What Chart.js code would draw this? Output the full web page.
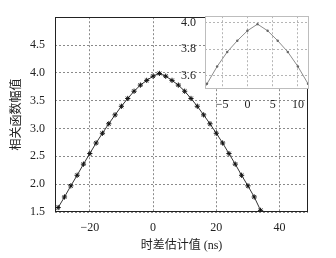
<!DOCTYPE html>
<html>
<head>
<meta charset="utf-8">
<script src="https://cdn.jsdelivr.net/npm/chart.js@4/dist/chart.umd.min.js"></script>
<style>
  html, body { margin: 0; padding: 0; background: #fff; }
  #wrap { position: relative; width: 336px; height: 258px; }
  #main { position: absolute; left: 0; top: 0; }
  #inset { position: absolute; left: 170px; top: 0; }
</style>
</head>
<body>
<div id="wrap">
  <canvas id="main" width="336" height="258"></canvas>
  <canvas id="inset" width="166" height="116"></canvas>
</div>
<script>
// ---- data ----
const xValues = [-30, -28, -26, -24, -22, -20, -18, -16, -14, -12, -10, -8, -6, -4, -2, 0, 2,
                 4, 6, 8, 10, 12, 14, 16, 18, 20, 22, 24, 26, 28, 30, 32, 34];
const yValues = [1.58, 1.77, 1.97, 2.16, 2.36, 2.55, 2.74, 2.915, 3.085, 3.245, 3.40, 3.54, 3.67, 3.78, 3.865, 3.94, 3.99,
                 3.94, 3.865, 3.78, 3.67, 3.54, 3.40, 3.245, 3.085, 2.915, 2.74, 2.55, 2.36, 2.16, 1.97, 1.77, 1.53];
const mainXTicks = [-20, 0, 20, 40];
const mainYTicks = [1.5, 2.0, 2.5, 3.0, 3.5, 4.0, 4.5];
const insetXTicks = [-5, 0, 5, 10];
const insetYTicks = [3.6, 3.8, 4.0];
const xTitle = '时差估计值 (ns)';
const yTitle = '相关函数幅值';

const points = xValues.map((x, i) => ({ x: x, y: yValues[i] }));
const tickFont = { family: "'Liberation Serif', 'Times New Roman', serif", size: 12 };
const cjkFont = { family: "'Liberation Serif', 'Noto Sans CJK SC', serif", size: 12 };
const fmtMinus = v => String(v).replace('-', '\u2212');
const fmtFixed1 = v => Number(v).toFixed(1);

function frame(color, fill) {
  return {
    id: 'frame_' + color,
    beforeDraw(chart) {
      if (!fill) return;
      const a = chart.chartArea, c = chart.ctx;
      c.save(); c.fillStyle = fill;
      c.fillRect(a.left, a.top, a.right - a.left, a.bottom - a.top);
      c.restore();
    },
    afterDraw(chart) {
      const a = chart.chartArea, c = chart.ctx;
      c.save(); c.strokeStyle = color; c.lineWidth = 1;
      c.strokeRect(Math.round(a.left) + 0.5, Math.round(a.top) + 0.5,
                   Math.round(a.right - a.left) - 1, Math.round(a.bottom - a.top) - 1);
      c.restore();
    }
  };
}

new Chart(document.getElementById('main'), {
  type: 'line',
  data: { datasets: [{
    data: points,
    borderColor: '#333',
    borderWidth: 1,
    pointStyle: 'star',
    pointRadius: 2.6,
    pointBorderColor: '#111',
    pointBorderWidth: 1,
    pointBackgroundColor: '#111',
    tension: 0
  }]},
  options: {
    responsive: false, animation: false, devicePixelRatio: 1,
    layout: { padding: { top: 11, right: 28, left: 0, bottom: 0 } },
    plugins: { legend: { display: false }, tooltip: { enabled: false } },
    scales: {
      x: {
        type: 'linear', min: -31, max: 49,
        afterBuildTicks: s => { s.ticks = mainXTicks.map(v => ({ value: v })); },
        afterFit: s => { s.height = 46; },
        grid: { color: '#8a8a8a', drawTicks: false, lineWidth: 1 },
        border: { display: false, dash: [2, 2] },
        ticks: { font: tickFont, color: '#222', padding: 9, callback: fmtMinus, maxRotation: 0 },
        title: { display: true, text: xTitle, font: cjkFont, color: '#222', padding: { top: 0, bottom: 5 } }
      },
      y: {
        type: 'linear', min: 1.5, max: 5.0,
        afterBuildTicks: s => { s.ticks = mainYTicks.map(v => ({ value: v })); },
        afterFit: s => { s.width = 55; },
        grid: { color: '#8a8a8a', drawTicks: false, lineWidth: 1 },
        border: { display: false, dash: [2, 2] },
        ticks: { font: tickFont, color: '#222', padding: 10, callback: fmtFixed1 },
        title: { display: true, text: yTitle, font: cjkFont, color: '#222', padding: { top: 10, bottom: 0 } }
      }
    }
  },
  plugins: [frame('#222', null)]
});

new Chart(document.getElementById('inset'), {
  type: 'line',
  data: { datasets: [{
    data: points,
    borderColor: '#8c8c8c',
    borderWidth: 1,
    pointStyle: 'circle',
    pointRadius: 1.2,
    pointBorderWidth: 0,
    pointBackgroundColor: '#666',
    tension: 0
  }]},
  options: {
    responsive: false, animation: false, devicePixelRatio: 1,
    layout: { padding: { top: 10, right: 27, left: 0, bottom: 0 } },
    plugins: { legend: { display: false }, tooltip: { enabled: false } },
    scales: {
      x: {
        type: 'linear', min: -8.4, max: 12.2,
        afterBuildTicks: s => { s.ticks = insetXTicks.map(v => ({ value: v })); },
        afterFit: s => { s.height = 27; },
        grid: { color: '#b5b5b5', drawTicks: false, lineWidth: 1 },
        border: { display: false, dash: [2, 2] },
        ticks: { font: tickFont, color: '#222', padding: 9, callback: fmtMinus, maxRotation: 0 }
      },
      y: {
        type: 'linear', min: 3.5, max: 4.05,
        afterBuildTicks: s => { s.ticks = insetYTicks.map(v => ({ value: v })); },
        afterFit: s => { s.width = 35; },
        grid: { color: '#b5b5b5', drawTicks: false, lineWidth: 1 },
        border: { display: false, dash: [2, 2] },
        ticks: { font: tickFont, color: '#222', padding: 9, callback: fmtFixed1 }
      }
    }
  },
  plugins: [frame('#bdbdbd', '#ffffff')]
});
</script>
</body>
</html>
